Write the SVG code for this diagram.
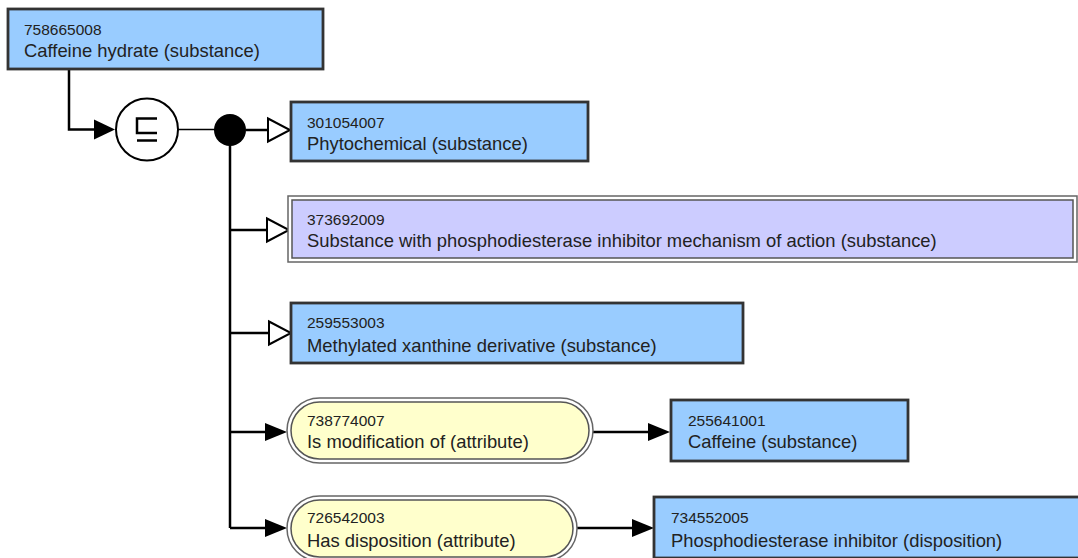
<svg xmlns="http://www.w3.org/2000/svg" width="1078" height="558" viewBox="0 0 1078 558">
<defs>
<style>
.c{fill:#99ccff;stroke:#333;stroke-width:2.8}
.po{fill:#fff;stroke:#666;stroke-width:1.5}
.pi{fill:#ccccff;stroke:#555;stroke-width:1.5}
.yo{fill:#fff;stroke:#666;stroke-width:1.5}
.yi{fill:#ffffcc;stroke:#555;stroke-width:1.5}
.id{font-family:"Liberation Sans",Arial,sans-serif;font-size:15.5px;fill:#222}
.nm{font-family:"Liberation Sans",Arial,sans-serif;font-size:18.4px;fill:#222}
.ln{fill:none;stroke:#000;stroke-width:2.5}
.open{fill:#fff;stroke:#000;stroke-width:2}
.fill{fill:#000;stroke:none}
</style>
</defs>
<rect width="1078" height="558" fill="#fff"/>
<g id="connectors">
<path class="ln" d="M69,69 V129.5 H95"/>
<polygon class="fill" points="94,119.5 115,129.5 94,139.5"/>
<path d="M178,129.5 H216" fill="none" stroke="#000" stroke-width="1.5"/>
<path class="ln" d="M246,130 H268"/>
<polygon class="open" points="268,118.5 290,130 268,141.5"/>
<path class="ln" d="M230,130 V528"/>
<path class="ln" d="M230,230 H267"/>
<polygon class="open" points="267,218.5 289,230 267,241.5"/>
<path class="ln" d="M230,333 H269"/>
<polygon class="open" points="269,321.5 291,333 269,344.5"/>
<path class="ln" d="M230,432 H266"/>
<polygon class="fill" points="265,423 287,432 265,441"/>
<path class="ln" d="M230,528 H266"/>
<polygon class="fill" points="265,519 287,528 265,537"/>
<path class="ln" d="M593,432 H649"/>
<polygon class="fill" points="648,423 670,432 648,441"/>
<path class="ln" d="M577,528 H633"/>
<polygon class="fill" points="632,519 654,528 632,537"/>
</g>
<g id="n758665008">
<rect class="c" x="8" y="9" width="315" height="60"/>
<text class="id" x="24" y="35">758665008</text>
<text class="nm" x="24" y="57">Caffeine hydrate (substance)</text>
</g>
<g id="subsumption">
<circle cx="147" cy="129.5" r="31" fill="#fff" stroke="#000" stroke-width="2"/>
<path d="M157,118.5 H137 V133 H157 M137,140.5 H157" fill="none" stroke="#000" stroke-width="2.5"/>
</g>
<g id="conjunction">
<circle cx="230" cy="130" r="16" fill="#000"/>
</g>
<g id="n301054007">
<rect class="c" x="291" y="102" width="297" height="59"/>
<text class="id" x="307" y="128">301054007</text>
<text class="nm" x="307" y="150">Phytochemical (substance)</text>
</g>
<g id="n373692009">
<rect class="po" x="288" y="196" width="789" height="66"/>
<rect class="pi" x="292" y="200" width="781" height="58"/>
<text class="id" x="307" y="225">373692009</text>
<text class="nm" x="307" y="247">Substance with phosphodiesterase inhibitor mechanism of action (substance)</text>
</g>
<g id="n259553003">
<rect class="c" x="291" y="303" width="452" height="60"/>
<text class="id" x="307" y="328">259553003</text>
<text class="nm" x="307" y="352">Methylated xanthine derivative (substance)</text>
</g>
<g id="n738774007">
<rect class="yo" x="287" y="398" width="306" height="65" rx="32.5"/>
<rect class="yi" x="291" y="402" width="298" height="57" rx="28.5"/>
<text class="id" x="307" y="426">738774007</text>
<text class="nm" x="307" y="448">Is modification of (attribute)</text>
</g>
<g id="n255641001">
<rect class="c" x="671" y="400" width="237" height="61"/>
<text class="id" x="688" y="426">255641001</text>
<text class="nm" x="688" y="448">Caffeine (substance)</text>
</g>
<g id="n726542003">
<rect class="yo" x="287" y="496" width="290" height="65" rx="32.5"/>
<rect class="yi" x="291" y="500" width="282" height="57" rx="28.5"/>
<text class="id" x="307" y="523">726542003</text>
<text class="nm" x="307" y="547">Has disposition (attribute)</text>
</g>
<g id="n734552005">
<rect class="c" x="654" y="497" width="440" height="61"/>
<text class="id" x="671" y="523">734552005</text>
<text class="nm" x="671" y="547">Phosphodiesterase inhibitor (disposition)</text>
</g>
</svg>
